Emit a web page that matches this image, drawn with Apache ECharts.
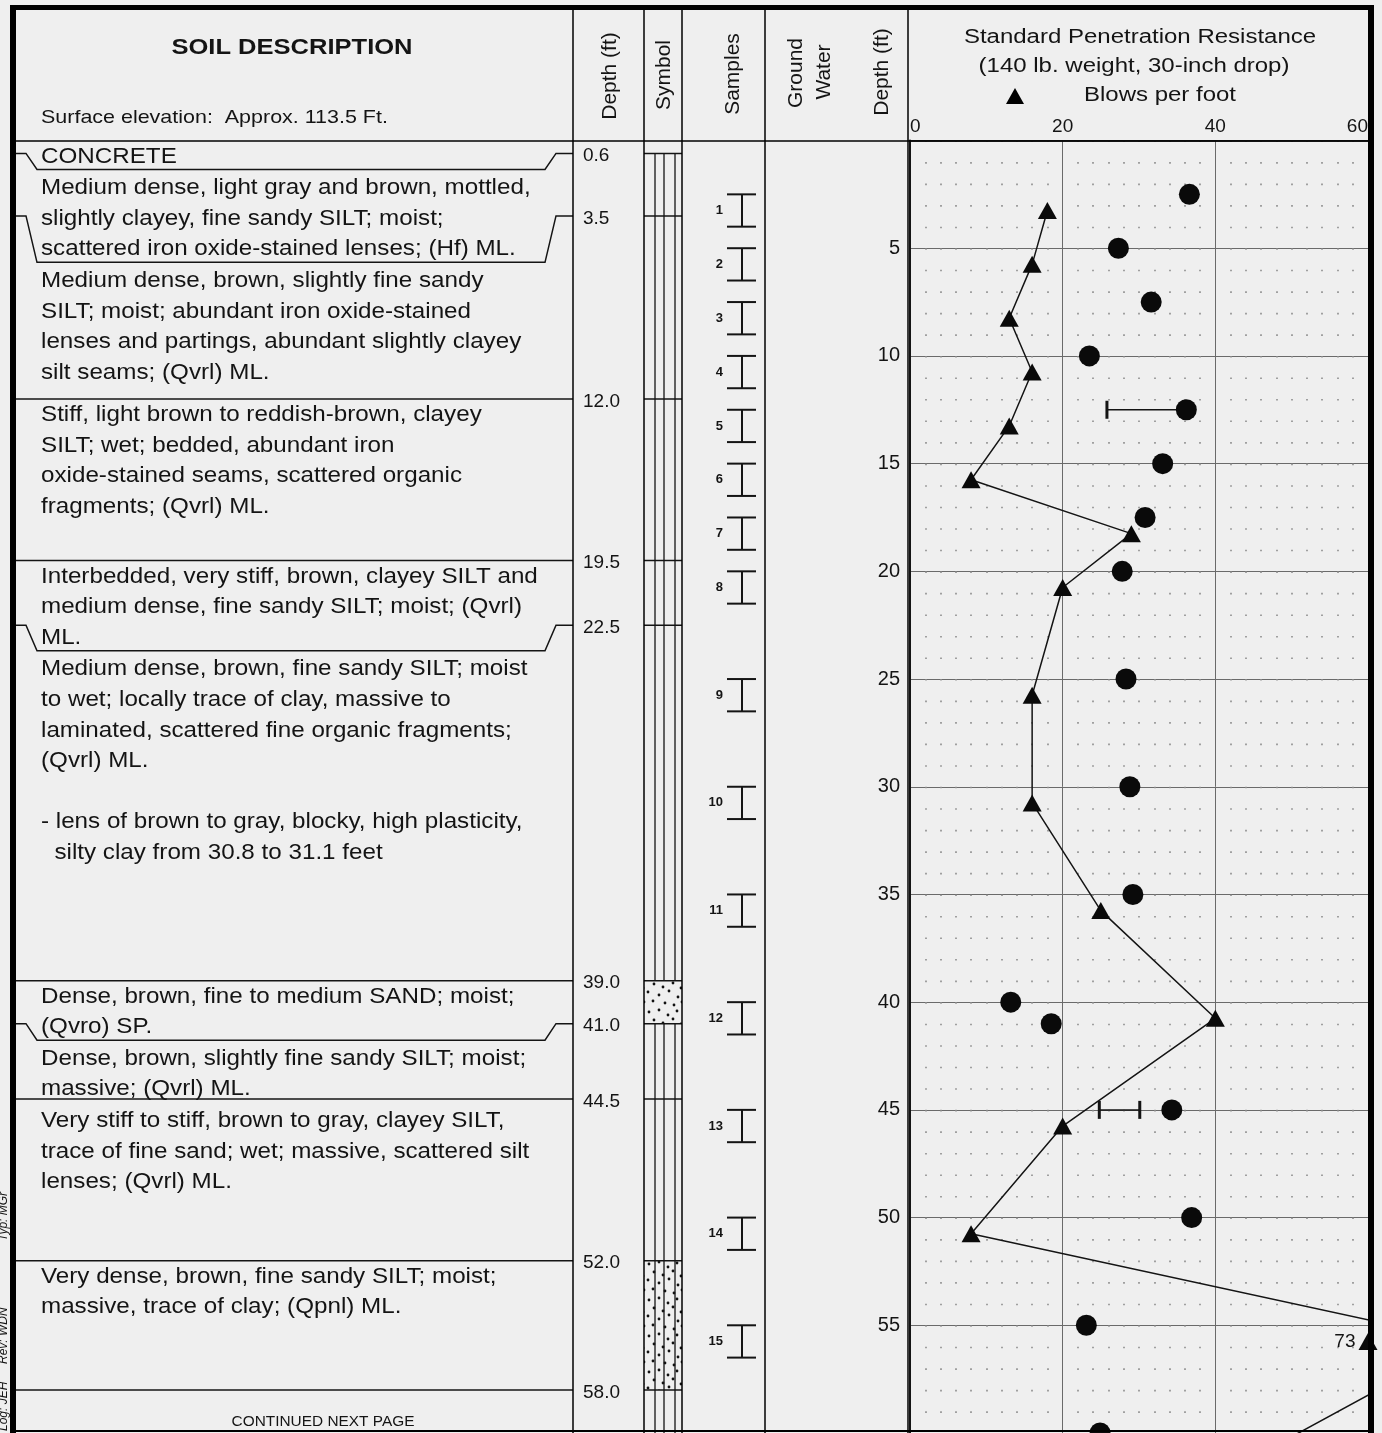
<!DOCTYPE html>
<html>
<head>
<meta charset="utf-8">
<script src="https://cdn.jsdelivr.net/npm/echarts@6/dist/echarts.min.js"></script>
<style>
html,body{margin:0;padding:0;background:#efefef;}
#c{width:1382px;height:1433px;}
</style>
</head>
<body>
<div id="c"></div>
<script>
// ---------------- DATA ----------------
const layerTops = [0, 0.6, 3.5, 12.0, 19.5, 22.5, 39.0, 41.0, 44.5, 52.0, 58.0];
const layerSymbols = ['concrete', 'ML', 'ML', 'ML', 'ML', 'ML', 'SP', 'ML', 'ML', 'ML-sandy', 'ML'];
const layerText = [
  ['CONCRETE'],
  ['Medium dense, light gray and brown, mottled,', 'slightly clayey, fine sandy SILT; moist;', 'scattered iron oxide-stained lenses; (Hf) ML.'],
  ['Medium dense, brown, slightly fine sandy', 'SILT; moist; abundant iron oxide-stained', 'lenses and partings, abundant slightly clayey', 'silt seams; (Qvrl) ML.'],
  ['Stiff, light brown to reddish-brown, clayey', 'SILT; wet; bedded, abundant iron', 'oxide-stained seams, scattered organic', 'fragments; (Qvrl) ML.'],
  ['Interbedded, very stiff, brown, clayey SILT and', 'medium dense, fine sandy SILT; moist; (Qvrl)', 'ML.'],
  ['Medium dense, brown, fine sandy SILT; moist', 'to wet; locally trace of clay, massive to', 'laminated, scattered fine organic fragments;', '(Qvrl) ML.', '', '- lens of brown to gray, blocky, high plasticity,', '  silty clay from 30.8 to 31.1 feet'],
  ['Dense, brown, fine to medium SAND; moist;', '(Qvro) SP.'],
  ['Dense, brown, slightly fine sandy SILT; moist;', 'massive; (Qvrl) ML.'],
  ['Very stiff to stiff, brown to gray, clayey SILT,', 'trace of fine sand; wet; massive, scattered silt', 'lenses; (Qvrl) ML.'],
  ['Very dense, brown, fine sandy SILT; moist;', 'massive, trace of clay; (Qpnl) ML.'],
  []
];
const sampleNumbers = [1, 2, 3, 4, 5, 6, 7, 8, 9, 10, 11, 12, 13, 14, 15];
const sampleTops = [2.5, 5, 7.5, 10, 12.5, 15, 17.5, 20, 25, 30, 35, 40, 45, 50, 55];
const sampleLength = 1.5;
const blowDepths = [3.25, 5.75, 8.25, 10.75, 13.25, 15.75, 18.25, 20.75, 25.75, 30.75, 35.75, 40.75, 45.75, 50.75, 55.75, 60.75];
const blowCounts = [18, 16, 13, 16, 13, 8, 29, 20, 16, 16, 25, 40, 20, 8, 73, 47];
const moistureDepths = [2.5, 5, 7.5, 10, 12.5, 15, 17.5, 20, 25, 30, 35, 40, 41, 45, 50, 55, 60];
const moistureValues = [36.6, 27.3, 31.6, 23.5, 36.2, 33.1, 30.8, 27.8, 28.3, 28.8, 29.2, 13.2, 18.5, 34.3, 36.9, 23.1, 24.9];
const limitDepths = [12.5, 45];
const plasticLimits = [25.8, 24.8];
const liquidLimits = [36.2, 30.1];
const blowAxisTicks = [0, 20, 40, 60];
const depthAxisTicks = [0, 5, 10, 15, 20, 25, 30, 35, 40, 45, 50, 55, 60];

// ---------------- STYLE / LAYOUT ----------------
const FONT = '"Liberation Sans", Arial, Helvetica, sans-serif';
const INK = '#141414';
const GRID_TOP = 140.5, GRID_H = 1292.5;
const LH = 30.6;

function dotCanvas() {
  const c = document.createElement('canvas');
  c.width = 38; c.height = 36;
  const g = c.getContext('2d');
  g.fillStyle = '#111';
  const pts = [[3,4],[13,2],[22,7],[31,3],[8,12],[17,15],[27,11],[35,16],[2,20],[13,23],[23,19],[32,25],[7,29],[19,31],[28,33],[36,30]];
  pts.forEach(p => { g.beginPath(); g.arc(p[0], p[1], 1.4, 0, Math.PI * 2); g.fill(); });
  return c;
}
const DOTS = dotCanvas();

function computeLayout(yOf) {
  const out = [];
  let prevLast = -Infinity;
  for (let i = 0; i < layerTops.length; i++) {
    const yc = yOf(layerTops[i]);
    const dipY = (i > 0 && yc < prevLast + 8) ? prevLast + 13 : null;
    const start = Math.max(yc + 16, prevLast + LH + 1);
    const lines = layerText[i].map((t, k) => start + k * LH);
    if (lines.length) prevLast = lines[lines.length - 1];
    out.push({ yc, dipY, lines });
  }
  return out;
}

function txt(t, x, y, font, extra) {
  return Object.assign({
    type: 'text', x: x, y: y,
    style: { text: t, font: font, fill: INK, align: 'left', textAlign: 'left', verticalAlign: 'middle', textVerticalAlign: 'middle' }
  }, extra || {});
}

function renderLayer(params, api) {
  const i = params.dataIndex;
  const yOf = d => api.coord([0, d])[1];
  const L = computeLayout(yOf);
  const me = L[i];
  const kids = [];
  me.lines.forEach((y, k) => {
    const t = layerText[i][k];
    if (!t) return;
    kids.push(txt(t, 41, y, '22px ' + FONT, { scaleX: 1.1 }));
  });
  const yTop = me.yc;
  const yBot = i + 1 < layerTops.length ? yOf(layerTops[i + 1]) : yOf(60);
  const sym = layerSymbols[i];
  if (sym === 'SP' || sym === 'ML-sandy') {
    kids.push({ type: 'rect', shape: { x: 644, y: yTop, width: 38, height: yBot - yTop },
      style: { fill: { type: 'pattern', image: DOTS, repeat: 'repeat' }, stroke: null } });
  }
  if (sym === 'ML' || sym === 'ML-sandy') {
    [655, 664, 675].forEach(x => kids.push({ type: 'line', shape: { x1: x, y1: yTop, x2: x, y2: yBot }, style: { stroke: INK, lineWidth: 1.3 } }));
  }
  if (i > 0) {
    let pts;
    if (me.dipY != null) pts = [[12, yTop], [26, yTop], [37, me.dipY], [545, me.dipY], [556, yTop], [573, yTop]];
    else pts = [[12, yTop], [573, yTop]];
    kids.push({ type: 'polyline', shape: { points: pts }, style: { stroke: INK, lineWidth: 1.5, fill: null } });
    kids.push(txt(layerTops[i].toFixed(1), 583, yTop + 2.5, '19px ' + FONT));
    kids.push({ type: 'line', shape: { x1: 644, y1: yTop, x2: 682, y2: yTop }, style: { stroke: INK, lineWidth: 1.5 } });
  }
  return { type: 'group', children: kids };
}

function renderSample(params, api) {
  const i = params.dataIndex;
  const y1 = api.coord([0, sampleTops[i]])[1];
  const y2 = api.coord([0, sampleTops[i] + sampleLength])[1];
  const st = { stroke: INK, lineWidth: 2 };
  return { type: 'group', children: [
    { type: 'line', shape: { x1: 727, y1: y1, x2: 756, y2: y1 }, style: st },
    { type: 'line', shape: { x1: 742, y1: y1, x2: 742, y2: y2 }, style: st },
    { type: 'line', shape: { x1: 727, y1: y2, x2: 756, y2: y2 }, style: st },
    { type: 'text', x: 723, y: (y1 + y2) / 2, style: { text: String(sampleNumbers[i]), font: 'bold 13px ' + FONT, fill: INK, align: 'right', textAlign: 'right', verticalAlign: 'middle', textVerticalAlign: 'middle' } }
  ] };
}

function renderLimit(params, api) {
  const i = params.dataIndex;
  const p1 = api.coord([plasticLimits[i], limitDepths[i]]);
  const p2 = api.coord([liquidLimits[i], limitDepths[i]]);
  return { type: 'group', children: [
    { type: 'line', shape: { x1: p1[0], y1: p1[1], x2: p2[0], y2: p2[1] }, style: { stroke: INK, lineWidth: 1.5 } },
    { type: 'line', shape: { x1: p1[0], y1: p1[1] - 9, x2: p1[0], y2: p1[1] + 9 }, style: { stroke: INK, lineWidth: 3 } },
    { type: 'line', shape: { x1: p2[0], y1: p2[1] - 9, x2: p2[0], y2: p2[1] + 9 }, style: { stroke: INK, lineWidth: 3 } }
  ] };
}

// ---------------- STATIC FRAME / HEADERS ----------------
const G = [];
function gline(x1, y1, x2, y2, w, z) {
  G.push({ type: 'line', z: z || 50, shape: { x1, y1, x2, y2 }, style: { stroke: '#000', lineWidth: w } });
}
gline(10, 7.5, 1374, 7.5, 5, 100);
gline(13, 5, 13, 1433, 6, 100);
gline(1371, 5, 1371, 1433, 6, 100);
gline(10, 1431, 1374, 1431, 2, 100);
gline(13, 141, 1371, 141, 1.5, 60);
[573, 644, 682, 765, 908].forEach(x => gline(x, 7.5, x, 1433, 1.5, 60));

function gtext(t, x, y, font, align, extra) {
  G.push(Object.assign({ type: 'text', z: 60, x: x, y: y,
    style: { text: t, font: font, fill: INK, align: align, textAlign: align, verticalAlign: 'middle', textVerticalAlign: 'middle' } }, extra || {}));
}
gtext('SOIL DESCRIPTION', 292, 48, 'bold 22px ' + FONT, 'center', { scaleX: 1.16 });
gtext('Surface elevation:  Approx. 113.5 Ft.', 41, 118, '19px ' + FONT, 'left', { scaleX: 1.13 });
const ROT = Math.PI / 2;
gtext('Depth (ft)', 610, 76, '21px ' + FONT, 'center', { rotation: ROT });
gtext('Symbol', 664, 75, '21px ' + FONT, 'center', { rotation: ROT });
gtext('Samples', 733, 74, '21px ' + FONT, 'center', { rotation: ROT });
gtext('Ground', 796, 73, '21px ' + FONT, 'center', { rotation: ROT });
gtext('Water', 824, 72, '21px ' + FONT, 'center', { rotation: ROT });
gtext('Depth (ft)', 882, 72, '21px ' + FONT, 'center', { rotation: ROT });
gtext('Standard Penetration Resistance', 1140, 37, '20px ' + FONT, 'center', { scaleX: 1.2 });
gtext('(140 lb. weight, 30-inch drop)', 1134, 66, '20px ' + FONT, 'center', { scaleX: 1.2 });
gtext('Blows per foot', 1160, 95, '20px ' + FONT, 'center', { scaleX: 1.2 });
G.push({ type: 'polygon', z: 60, shape: { points: [[1006, 104], [1024, 104], [1015, 88]] }, style: { fill: '#000' } });
gtext('CONTINUED NEXT PAGE', 323, 1422, '14px ' + FONT, 'center', { scaleX: 1.1 });
gtext('Log: JEH', 4, 1431, 'italic 12px ' + FONT, 'left', { rotation: ROT });
gtext('Rev: WDN', 4, 1364, 'italic 12px ' + FONT, 'left', { rotation: ROT });
gtext('Typ: MGr', 4, 1241, 'italic 12px ' + FONT, 'left', { rotation: ROT });

// ---------------- CHART ----------------
const chart = echarts.init(document.getElementById('c'), null, { renderer: 'canvas', width: 1382, height: 1433 });

const blowPoints = blowCounts.map((v, i) => [v, blowDepths[i]]);
const maxBlow = blowAxisTicks[blowAxisTicks.length - 1];
const maxDepth = depthAxisTicks[depthAxisTicks.length - 1];
const offScale = blowPoints.filter(p => p[0] > maxBlow && p[1] <= maxDepth).map(p => [maxBlow, p[1], p[0]]);

chart.setOption({
  backgroundColor: '#efefef',
  animation: false,
  textStyle: { fontFamily: FONT },
  graphic: { elements: G },
  grid: [
    { left: 12, top: GRID_TOP, width: 896, height: GRID_H },
    { left: 910, top: GRID_TOP, width: 458, height: GRID_H }
  ],
  xAxis: [
    { gridIndex: 0, type: 'value', min: 0, max: 1, show: false },
    { gridIndex: 1, type: 'value', position: 'top', min: blowAxisTicks[0], max: maxBlow, interval: blowAxisTicks[1] - blowAxisTicks[0],
      axisLine: { show: true, lineStyle: { color: INK, width: 1.5 } },
      axisTick: { show: false },
      axisLabel: { fontSize: 19, color: INK, fontFamily: FONT, margin: 4, alignMinLabel: 'left', alignMaxLabel: 'right' },
      splitLine: { show: true, lineStyle: { color: '#6a6a6a', width: 1 } },
      minorTick: { show: false, splitNumber: 10 },
      minorSplitLine: { show: true, lineStyle: { color: '#8c8c8c', width: 1.6, type: [1.6, 19.94] } } }
  ],
  yAxis: [
    { gridIndex: 0, type: 'value', min: 0, max: maxDepth, inverse: true, show: false },
    { gridIndex: 1, type: 'value', min: depthAxisTicks[0], max: maxDepth, interval: depthAxisTicks[1] - depthAxisTicks[0], inverse: true,
      axisLine: { show: true, lineStyle: { color: INK, width: 2 } },
      axisTick: { show: false },
      axisLabel: { fontSize: 20, color: INK, fontFamily: FONT, margin: 10, showMinLabel: false, showMaxLabel: false },
      splitLine: { show: true, lineStyle: { color: '#6a6a6a', width: 1 } } }
  ],
  series: [
    { type: 'custom', name: 'layers', xAxisIndex: 0, yAxisIndex: 0, clip: false, silent: true, z: 5,
      data: layerTops.map((t, i) => [0, t, i]), renderItem: renderLayer },
    { type: 'custom', name: 'samples', xAxisIndex: 0, yAxisIndex: 0, clip: false, silent: true, z: 5,
      data: sampleTops.map((t, i) => [0, t, i]), renderItem: renderSample },
    { type: 'custom', name: 'limits', xAxisIndex: 1, yAxisIndex: 1, clip: false, silent: true, z: 3,
      data: limitDepths.map((d, i) => [plasticLimits[i], d, liquidLimits[i]]), renderItem: renderLimit },
    { type: 'scatter', name: 'Moisture', xAxisIndex: 1, yAxisIndex: 1, clip: false, z: 4,
      symbol: 'circle', symbolSize: 21, itemStyle: { color: '#0a0a0a', opacity: 1 },
      data: moistureValues.map((v, i) => [v, moistureDepths[i]]) },
    { type: 'line', name: 'Blows per foot', xAxisIndex: 1, yAxisIndex: 1, clip: true, z: 5,
      symbol: 'triangle', symbolSize: [19, 17], showAllSymbol: true,
      lineStyle: { color: INK, width: 1.5 }, itemStyle: { color: '#0a0a0a', opacity: 1 },
      data: blowPoints },
    { type: 'scatter', name: 'Off scale', xAxisIndex: 1, yAxisIndex: 1, clip: false, z: 6,
      symbol: 'triangle', symbolSize: [19, 17], itemStyle: { color: '#0a0a0a', opacity: 1 },
      label: { show: true, position: 'left', distance: 3, fontSize: 19, color: INK, opacity: 1, fontFamily: FONT, formatter: p => String(p.value[2]) },
      data: offScale }
  ]
});
</script>
</body>
</html>
